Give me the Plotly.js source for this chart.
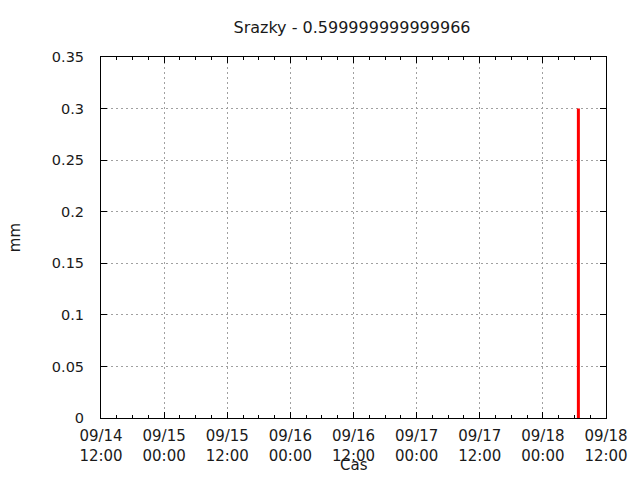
<!DOCTYPE html>
<html>
<head>
<meta charset="utf-8">
<script src="https://cdn.plot.ly/plotly-3.0.1.min.js"></script>
<style>html,body{margin:0;padding:0;background:#fff;}#chart{width:640px;height:480px;}</style>
</head>
<body>
<div id="chart"></div>
<script>
// Data
var times = ["2015-09-18 06:45"];
var precipitation = [0.3];
var chartTitle = "Srazky - 0.599999999999966";
var xLabel = "Cas";
var yLabel = "mm";
var xRange = ["2015-09-14 12:00", "2015-09-18 12:00"];
var yRange = [0, 0.35];

// Build impulse lines (vertical sticks from 0 to value)
var ix = [], iy = [];
for (var i = 0; i < times.length; i++) {
  ix.push(times[i], times[i], null);
  iy.push(0, precipitation[i], null);
}

var family = "DejaVu Sans, sans-serif";
var textColor = "#1a1a1a";
var titleFont = {family: family, size: 16, color: textColor};
var xTickFont = {family: family, size: 15, color: textColor};
var yTickFont = {family: family, size: 14.5, color: textColor};
var labelFont = {family: family, size: 15, color: textColor};

var trace = {
  type: "scatter",
  mode: "lines",
  x: ix,
  y: iy,
  line: {color: "#ff0000", width: 3},
  hoverinfo: "skip",
  showlegend: false
};

var layout = {
  width: 640,
  height: 480,
  paper_bgcolor: "#ffffff",
  plot_bgcolor: "#ffffff",
  font: labelFont,
  margin: {l: 101, r: 34, t: 57, b: 62, pad: 0},
  title: {
    text: chartTitle,
    font: titleFont,
    x: 0.55, xanchor: "center", xref: "container",
    y: 1 - 27 / 480, yanchor: "middle", yref: "container"
  },
  xaxis: {
    type: "date",
    range: xRange,
    tick0: xRange[0],
    dtick: 12 * 3600 * 1000,
    tickformat: "%m/%d<br>%H:%M",
    ticks: "inside",
    ticklen: 6,
    tickcolor: "#000",
    showline: true,
    linecolor: "#000",
    linewidth: 1,
    mirror: "ticks",
    showgrid: true,
    gridcolor: "#a0a0a0",
    griddash: "2px,3px",
    gridwidth: 1,
    zeroline: false,
    tickfont: xTickFont,
    ticklabelstandoff: 4,
    minor: {dtick: 3 * 3600 * 1000, ticks: "inside", ticklen: 3, tickcolor: "#000", showgrid: false},
    fixedrange: true
  },
  yaxis: {
    range: yRange,
    dtick: 0.05,
    tick0: 0,
    ticks: "inside",
    ticklen: 6,
    tickcolor: "#000",
    showline: true,
    linecolor: "#000",
    linewidth: 1,
    mirror: "ticks",
    showgrid: true,
    gridcolor: "#a0a0a0",
    griddash: "2px,3px",
    gridwidth: 1,
    zeroline: false,
    tickfont: yTickFont,
    ticklabelstandoff: 13,
    title: {text: yLabel, font: labelFont, standoff: 27},
    fixedrange: true
  },
  annotations: [{
    text: xLabel,
    xref: "paper", yref: "paper",
    x: 0.5, y: -47 / 361,
    xanchor: "center", yanchor: "middle",
    showarrow: false,
    font: labelFont
  }]
};

Plotly.newPlot("chart", [trace], layout, {displayModeBar: false, staticPlot: true});
</script>
</body>
</html>
